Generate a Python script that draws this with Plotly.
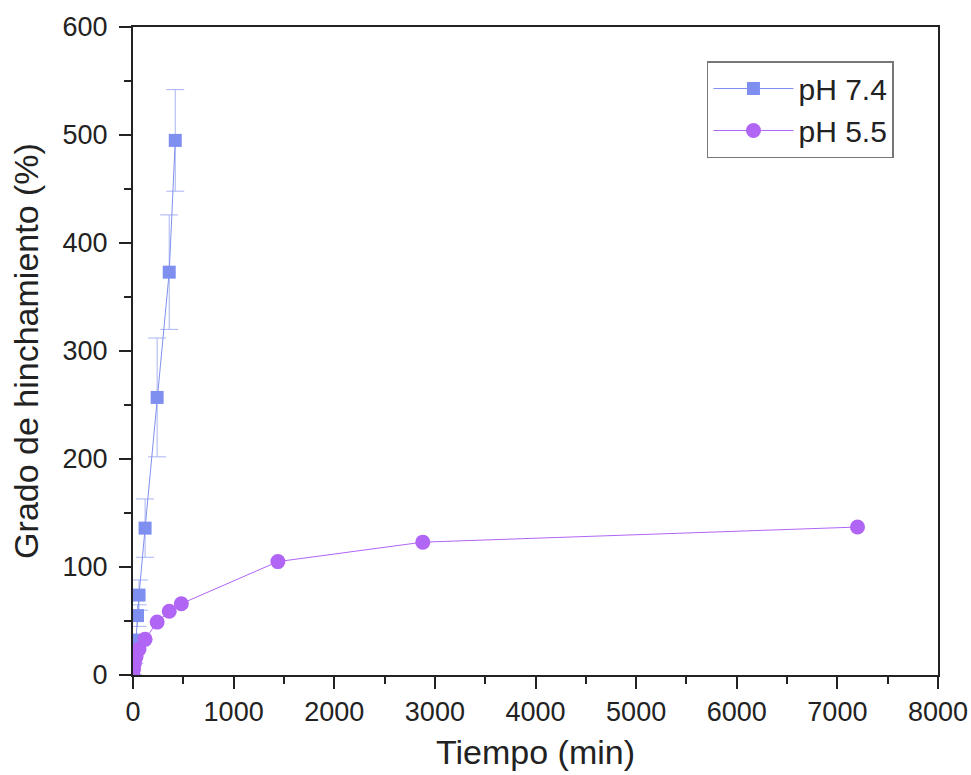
import plotly.graph_objects as go

t74 = [0, 15, 30, 45, 60, 120, 240, 360, 420]
y74 = [0, 15, 32, 55, 74, 136, 257, 373, 495]
e74 = [0, 4, 6, 10, 14, 27, 55, 53, 47]

t55 = [0, 5, 15, 30, 60, 120, 240, 360, 480, 1440, 2880, 7200]
y55 = [0, 5, 11, 17, 24, 33, 49, 59, 66, 105, 123, 137]

c74 = "#7f8ff0"
c55 = "#b065f5"

fig = go.Figure()
fig.add_trace(go.Scatter(
    x=t74, y=y74, name="pH 7.4", mode="lines+markers",
    line=dict(color=c74, width=1),
    marker=dict(symbol="square", size=13, color=c74),
    error_y=dict(type="data", array=e74, color="#a9b4f2", thickness=1, width=9),
))
fig.add_trace(go.Scatter(
    x=t55, y=y55, name="pH 5.5", mode="lines+markers",
    line=dict(color=c55, width=1),
    marker=dict(symbol="circle", size=15, color=c55),
))

font = "Liberation Sans, Arial, sans-serif"
axcol = "#222222"
fig.update_layout(
    width=971, height=775,
    margin=dict(l=133, r=33, t=27, b=100, autoexpand=False),
    paper_bgcolor="white", plot_bgcolor="white",
    font=dict(family=font, color="#222222", size=27),
    showlegend=True,
    legend=dict(x=0.713, y=0.9475, xanchor="left", yanchor="top",
                bordercolor="#777777", borderwidth=1.5,
                font=dict(size=30, family=font, color="#222222"),
                bgcolor="white", tracegroupgap=0, itemwidth=80),
    xaxis=dict(range=[0, 8000], tickvals=[0, 1000, 2000, 3000, 4000, 5000, 6000, 7000, 8000],
               ticks="outside", ticklen=12, tickwidth=1.5, tickcolor=axcol,
               minor=dict(ticks="outside", ticklen=7, tickwidth=1.5, tickcolor=axcol, dtick=500),
               showline=True, linecolor=axcol, linewidth=2, mirror=True,
               showgrid=False, zeroline=False, automargin=False,
               title=dict(text="Tiempo (min)", font=dict(size=34), standoff=14),
               tickfont=dict(size=27)),
    yaxis=dict(range=[0, 600], tickvals=[0, 100, 200, 300, 400, 500, 600],
               ticks="outside", ticklen=12, tickwidth=1.5, tickcolor=axcol,
               minor=dict(ticks="outside", ticklen=7, tickwidth=1.5, tickcolor=axcol, dtick=50),
               showline=True, linecolor=axcol, linewidth=2, mirror=True,
               showgrid=False, zeroline=False, automargin=False,
               ticklabelstandoff=6,
               title=dict(text="Grado de hinchamiento (%)", font=dict(size=34), standoff=14),
               tickfont=dict(size=27)),
)

fig.write_html("out.html")
